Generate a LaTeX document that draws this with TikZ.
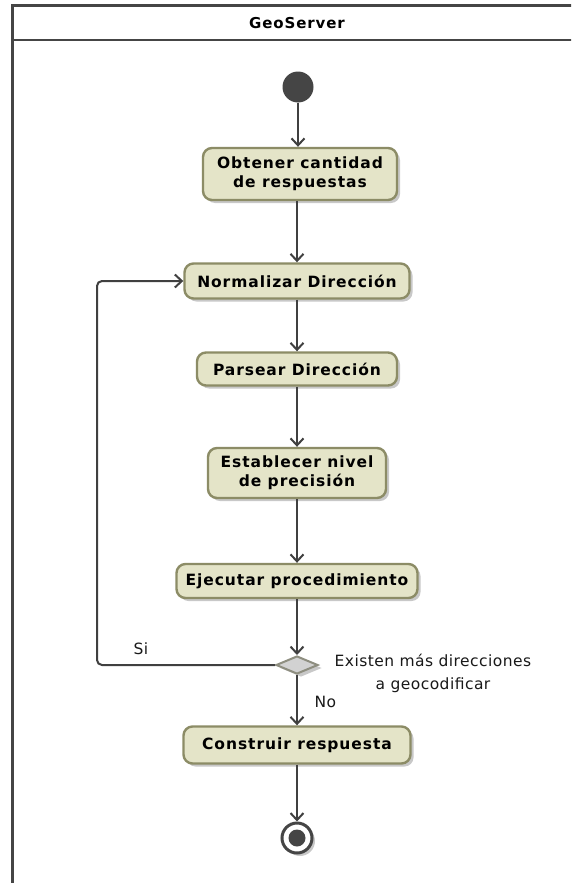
\documentclass[tikz,border=0pt]{standalone}
\usepackage{fontspec}
\setmainfont{DejaVu Sans}
\newfontfamily\boxfont[LetterSpace=6]{DejaVu Sans Bold}
\newfontfamily\labfont[LetterSpace=3]{DejaVu Sans}
\usetikzlibrary{arrows.meta,shapes.geometric,shadows}
\definecolor{frameC}{HTML}{454545}
\definecolor{boxF}{HTML}{E4E4C8}
\definecolor{boxD}{HTML}{8C8C66}
\definecolor{lineC}{HTML}{404040}
\definecolor{diaF}{HTML}{D2D2D2}
\definecolor{diaD}{HTML}{8E8E80}
\begin{document}
\begin{tikzpicture}[x=1pt,y=-1pt,
  act/.style={draw=boxD, fill=boxF, line width=2.4pt, rounded corners=9pt,
    font=\boxfont\fontsize{15.5}{19}\selectfont, text=black, align=center,
    drop shadow={shadow xshift=3pt, shadow yshift=-3pt, fill=black!30, opacity=0.7},
    inner xsep=4pt, inner ysep=3pt},
  flow/.style={draw=lineC, line width=2pt, -{Straight Barb[length=7pt,width=13pt,line width=2pt]}},
  lab/.style={font=\labfont\fontsize{15.5}{23}\selectfont, text=black!90}]
\useasboundingbox (0,0) rectangle (571,883);
\fill[white] (0,0) rectangle (571,883);
\begin{scope}
\clip (0,0) rectangle (571,883);
\draw[frameC, line width=3pt] (12,6) rectangle (590,900);
\draw[frameC, line width=2.5pt] (12,40) -- (590,40);
\end{scope}
\node[font=\boxfont\fontsize{15}{18}\selectfont] (title) at (297,23) {GeoServer};

\node[circle, fill=frameC, minimum size=31pt, inner sep=0pt] (start) at (298,87) {};
\node[act, minimum width=194pt, minimum height=52pt] (a1) at (300,174) {Obtener cantidad\\de respuestas};
\node[act, minimum width=225pt, minimum height=35pt] (a2) at (297,281) {Normalizar Dirección};
\node[act, minimum width=200pt, minimum height=33pt] (a3) at (297,369) {Parsear Dirección};
\node[act, minimum width=178pt, minimum height=50pt] (a4) at (297,473) {Establecer nivel\\de precisión};
\node[act, minimum width=241pt, minimum height=34pt] (a5) at (297,581) {Ejecutar procedimiento};
\node[diamond, draw=diaD, fill=diaF, line width=2pt, minimum width=42pt, minimum height=18pt, inner sep=0pt, aspect=2.3,
  drop shadow={shadow xshift=4pt, shadow yshift=-3pt, fill=black!30, opacity=0.7}] (d) at (297,665) {};
\node[act, minimum width=227pt, minimum height=37pt] (a6) at (297,745) {Construir respuesta};
\node[circle, draw=frameC, line width=3pt, fill=white, minimum size=30pt, inner sep=0pt,
  drop shadow={shadow xshift=3pt, shadow yshift=-3pt, fill=black!30, opacity=0.7}] (end) at (297,838) {};
\node[circle, fill=frameC, minimum size=17pt, inner sep=0pt] (endin) at (end) {};

\draw[flow] (start) -- (start |- a1.north);
\draw[flow] (a1.south -| a2) -- (a2);
\draw[flow] (a2) -- (a3);
\draw[flow] (a3) -- (a4);
\draw[flow] (a4) -- (a5);
\draw[flow] (a5) -- (d.north);
\draw[flow] (d.south) -- (a6);
\draw[flow] (a6) -- (end);
\coordinate (lb) at (97,665);
\coordinate (lt) at (97,281);
\draw[flow, rounded corners=5pt] (d.west) -- (lb) -- (lt) -- (a2.west);

\node[lab, anchor=base] (si) at (141,654) {Si};
\node[lab, align=center] (q) at (433,673) {Existen más direcciones\\a geocodificar};
\node[lab, anchor=base west] (no) at (311,707) {No};
\end{tikzpicture}
\end{document}
